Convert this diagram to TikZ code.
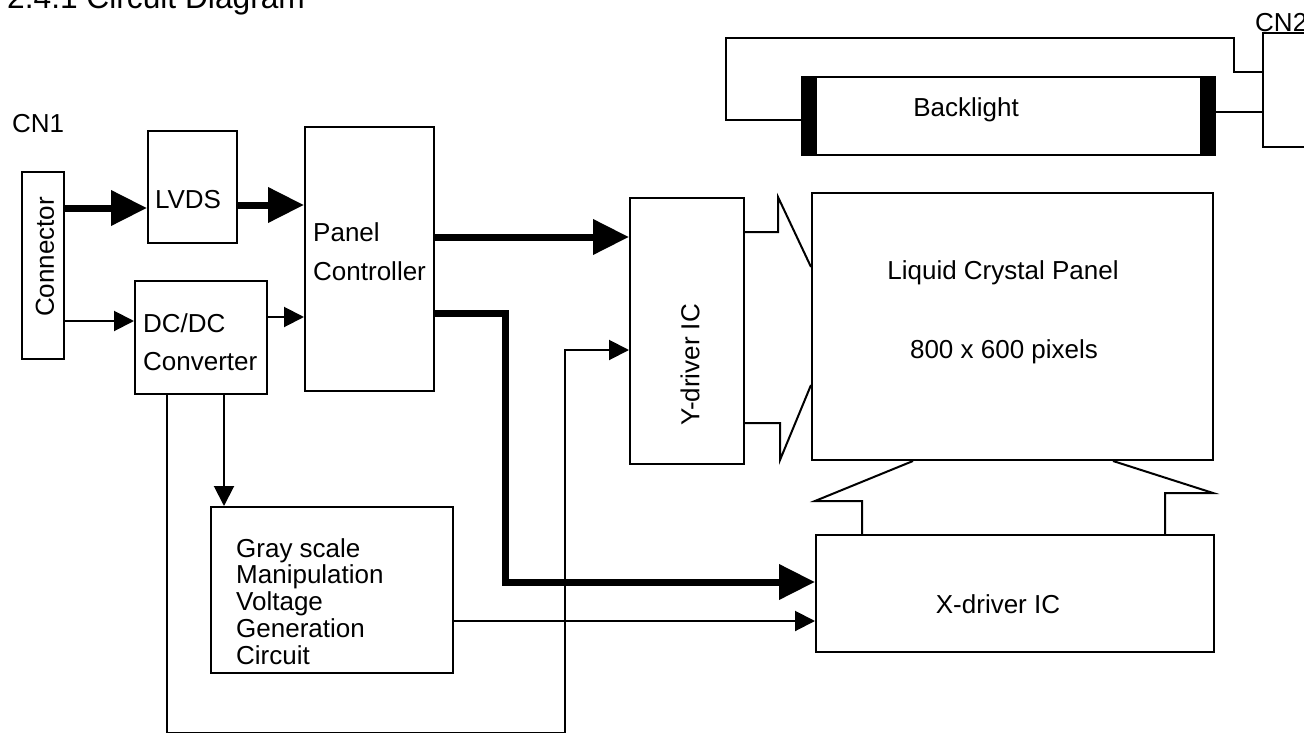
\documentclass[tikz,border=0pt]{standalone}
\usepackage{fontspec}
\setmainfont{Liberation Sans}
\usetikzlibrary{arrows.meta}
\begin{document}
\begin{tikzpicture}[x=1pt,y=-1pt,
  box/.style={draw, line width=2pt, inner sep=0pt},
  lbl/.style={inner sep=0pt, font=\fontsize{26}{30}\selectfont},
  wire/.style={line width=2pt},
  thinarrow/.style={line width=2pt, -{Triangle[length=20pt,width=20pt]}},
  thickarrow/.style={line width=7pt, line join=miter, -{Triangle[length=36pt,width=34pt]}}]
\useasboundingbox[fill=white] (0,0) rectangle (1304,733);

% title (clipped by page)
\node[inner sep=0pt, anchor=base west, font=\fontsize{31.7}{36}\selectfont] (title) at (7,9) {2.4.1 Circuit Diagram};

% boxes
\node[box, minimum width=42pt, minimum height=187pt] (conn) at (43,265.5) {};
\node[box, minimum width=89pt, minimum height=112pt] (lvds) at (192.5,187) {};
\node[box, minimum width=132pt, minimum height=113pt] (dcdc) at (201,337.5) {};
\node[box, minimum width=129pt, minimum height=264pt] (pc) at (369.5,259) {};
\node[box, minimum width=114pt, minimum height=266pt] (ydrv) at (687,331) {};
\node[box, minimum width=401pt, minimum height=267pt] (lcp) at (1012.5,326.5) {};
\node[box, minimum width=398pt, minimum height=117pt] (xdrv) at (1015,593.5) {};
\node[box, minimum width=242pt, minimum height=166pt] (gray) at (332,590) {};
\node[box, minimum width=413pt, minimum height=78pt] (bl) at (1008.5,116) {};
\node[box, minimum width=57pt, minimum height=114pt] (cn2) at (1291.5,90) {};
\fill (bl.north west) rectangle (817,0 |- bl.south);
\fill (1200,0 |- bl.north) rectangle (bl.south east);

% labels
\node[lbl, anchor=base west] (cn1t) at (12,133) {CN1};
\node[lbl, anchor=base west] (cn2t) at (1255,32) {CN2};
\node[lbl, rotate=90] (connt) at (45,257) {Connector};
\node[lbl, anchor=base] (lvdst) at (188,208) {LVDS};
\node[lbl, anchor=base west] (dct1) at (143,332) {DC/DC};
\node[lbl, anchor=base west] (dct2) at (143,370) {Converter};
\node[lbl, anchor=base west] (pct1) at (313,241) {Panel};
\node[lbl, anchor=base west] (pct2) at (313,280) {Controller};
\node[lbl, rotate=90] (ydt) at (690,365) {Y-driver IC};
\node[lbl, anchor=base] (lcpt1) at (1003,279) {Liquid Crystal Panel};
\node[lbl, anchor=base] (lcpt2) at (1004,358) {800 x 600 pixels};
\node[lbl, anchor=base] (xdt) at (998,613) {X-driver IC};
\node[lbl, anchor=base] (blt) at (966,117) {Backlight};
\node[lbl, anchor=base west] (g1) at (236,557) {Gray scale};
\node[lbl, anchor=base west] (g2) at (236,583) {Manipulation};
\node[lbl, anchor=base west] (g3) at (236,610) {Voltage};
\node[lbl, anchor=base west] (g4) at (236,637) {Generation};
\node[lbl, anchor=base west] (g5) at (236,664) {Circuit};

% thick arrows
\draw[thickarrow] (conn.east |- 0,208) -- (lvds.west |- 0,208);
\draw[thickarrow] (lvds.east |- 0,205) -- (pc.west |- 0,205);
\draw[thickarrow] (pc.east |- 0,237) -- (ydrv.west |- 0,237);
\draw[thickarrow] (pc.east |- 0,313) -- (505,313) -- (505,582) -- (xdrv.west |- 0,582);

% thin arrows
\draw[thinarrow] (conn.east |- 0,321) -- (dcdc.west |- 0,321);
\draw[thinarrow] (dcdc.east |- 0,317) -- (pc.west |- 0,317);
\draw[thinarrow] (224,0 |- dcdc.south) -- (224,0 |- gray.north);
\draw[thinarrow] (gray.east |- 0,621) -- (xdrv.west |- 0,621);
\draw[thinarrow] (167,0 |- dcdc.south) -- (167,733) -- (565,733) -- (565,350) -- (ydrv.west |- 0,350);

% Y-driver to panel
\draw[wire] (ydrv.east |- 0,232) -- (778,232) -- (778,197) -- (lcp.west |- 0,267);
\draw[wire] (ydrv.east |- 0,423) -- (780,423) -- (780,460) -- (lcp.west |- 0,385);

% panel to X-driver
\draw[wire] (913,0 |- lcp.south) -- (815,501) -- (862,501) -- (862,0 |- xdrv.north);
\draw[wire] (1113,0 |- lcp.south) -- (1213,493) -- (1165,493) -- (1165,0 |- xdrv.north);

% backlight wiring
\draw[wire] (bl.west |- 0,120) -- (726,120) -- (726,38) -- (1234,38) -- (1234,72) -- (cn2.west |- 0,72);
\draw[wire] (bl.east |- 0,112) -- (cn2.west |- 0,112);
\end{tikzpicture}
\end{document}
